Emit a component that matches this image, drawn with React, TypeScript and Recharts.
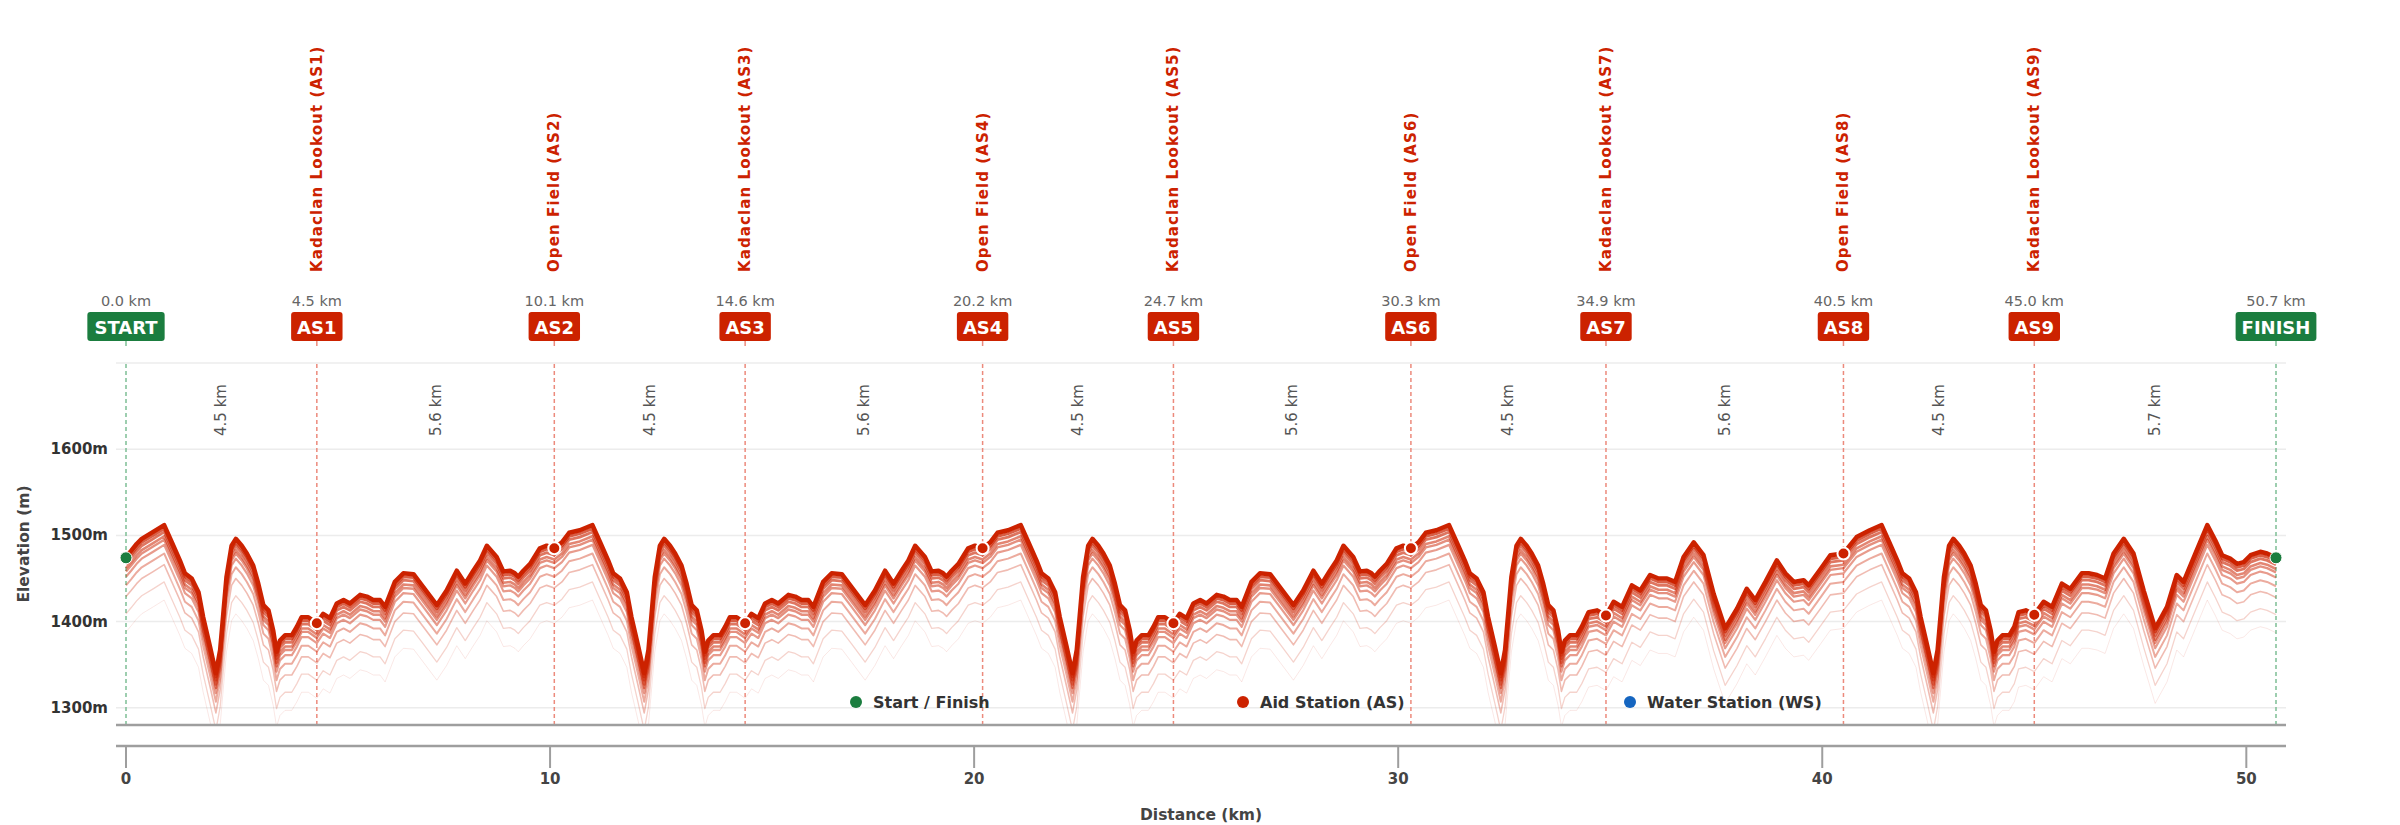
import React from "react";
import {
  LineChart,
  Line,
  XAxis,
  YAxis,
  CartesianGrid,
  ReferenceLine,
  ReferenceDot,
} from "recharts";

const FONT = "'DejaVu Sans', sans-serif";
const RED = "#cc2200";
const GREEN = "#1b7d3f";
const BLUE = "#1565c0";

// elevation profile, one pair of arrays per loop (km, metres)
const loop1Km = [
  0, 0.12, 0.25, 0.37, 0.64, 0.9, 1.08, 1.27, 1.39, 1.55, 1.71, 1.82, 1.98, 2.12, 2.22, 2.37, 2.49, 2.59, 2.73,
  2.85, 3.0, 3.12, 3.24, 3.36, 3.47, 3.55, 3.63, 3.75, 3.91, 4.03, 4.14, 4.3, 4.5, 4.65, 4.81, 4.97, 5.13,
  5.28, 5.52, 5.68, 5.83, 5.99, 6.11, 6.34, 6.54, 6.78, 7.01, 7.33, 7.56, 7.8, 8.0, 8.19, 8.35, 8.51, 8.74,
  8.9, 9.06, 9.17, 9.25, 9.37, 9.53, 9.76, 9.92,
];
const loop1Elev = [
  1475, 1482, 1490, 1496, 1504, 1512, 1492, 1471, 1456, 1450, 1434, 1405, 1371, 1340, 1367, 1452, 1488, 1496, 1488,
  1479, 1465, 1444, 1419, 1413, 1390, 1365, 1378, 1384, 1384, 1394, 1405, 1405, 1398, 1409, 1404, 1421, 1425,
  1421, 1431, 1429, 1425, 1425, 1417, 1446, 1456, 1455, 1440, 1419, 1436, 1459, 1444, 1459, 1471, 1488, 1475,
  1458, 1459, 1456, 1452, 1459, 1467, 1485, 1488,
];

const loop2Km = [
  10.1, 10.28, 10.45, 10.7, 11.0, 11.18, 11.37, 11.49, 11.65, 11.81, 11.92, 12.08, 12.22, 12.32, 12.47, 12.59,
  12.69, 12.83, 12.95, 13.1, 13.22, 13.34, 13.46, 13.57, 13.65, 13.73, 13.85, 14.01, 14.13, 14.24, 14.4, 14.6,
  14.75, 14.91, 15.07, 15.23, 15.38, 15.62, 15.78, 15.93, 16.09, 16.21, 16.44, 16.64, 16.88, 17.11, 17.43,
  17.66, 17.9, 18.1, 18.29, 18.45, 18.61, 18.84, 19.0, 19.16, 19.27, 19.35, 19.47, 19.63, 19.86, 20.02,
];
const loop2Elev = [
  1485, 1492, 1503, 1506, 1512, 1492, 1471, 1456, 1450, 1434, 1405, 1371, 1340, 1367, 1452, 1488,
  1496, 1488, 1479, 1465, 1444, 1419, 1413, 1390, 1365, 1378, 1384, 1384, 1394, 1405, 1405, 1398,
  1409, 1404, 1421, 1425, 1421, 1431, 1429, 1425, 1425, 1417, 1446, 1456, 1455, 1440, 1419,
  1436, 1459, 1444, 1459, 1471, 1488, 1475, 1458, 1459, 1456, 1452, 1459, 1467, 1485, 1488,
];

const loop3Km = [
  20.2, 20.38, 20.55, 20.8, 21.1, 21.28, 21.47, 21.59, 21.75, 21.91, 22.02, 22.18, 22.32, 22.42, 22.57, 22.69,
  22.79, 22.93, 23.05, 23.2, 23.32, 23.44, 23.56, 23.67, 23.75, 23.83, 23.95, 24.11, 24.23, 24.34, 24.5, 24.7,
  24.85, 25.01, 25.17, 25.33, 25.48, 25.72, 25.88, 26.03, 26.19, 26.31, 26.54, 26.74, 26.98, 27.21, 27.53,
  27.76, 28.0, 28.2, 28.39, 28.55, 28.71, 28.94, 29.1, 29.26, 29.37, 29.45, 29.57, 29.73, 29.96, 30.12,
];
const loop3Elev = [
  1485, 1492, 1503, 1506, 1512, 1492, 1471, 1456, 1450, 1434, 1405, 1371, 1340, 1367, 1452, 1488,
  1496, 1488, 1479, 1465, 1444, 1419, 1413, 1390, 1365, 1378, 1384, 1384, 1394, 1405, 1405, 1398,
  1409, 1404, 1421, 1425, 1421, 1431, 1429, 1425, 1425, 1417, 1446, 1456, 1455, 1440, 1419,
  1436, 1459, 1444, 1459, 1471, 1488, 1475, 1458, 1459, 1456, 1452, 1459, 1467, 1485, 1488,
];

const loop4Km = [
  30.3, 30.48, 30.65, 30.9, 31.2, 31.38, 31.57, 31.69, 31.85, 32.01, 32.12, 32.28, 32.42, 32.52, 32.67, 32.79,
  32.89, 33.03, 33.15, 33.3, 33.42, 33.54, 33.66, 33.77, 33.85, 33.93, 34.05, 34.21, 34.33, 34.49, 34.69, 34.9,
  35.08, 35.28, 35.51, 35.71, 35.94, 36.14, 36.34, 36.53, 36.73, 36.97, 37.2, 37.44, 37.71, 37.99, 38.22,
  38.42, 38.66, 38.93, 39.13, 39.33, 39.56, 39.68, 39.96, 40.19,
];
const loop4Elev = [
  1485, 1492, 1503, 1506, 1512, 1492, 1471, 1456, 1450, 1434, 1405, 1371, 1340, 1367, 1452, 1488,
  1496, 1488, 1479, 1465, 1444, 1419, 1413, 1390, 1365, 1378, 1384, 1384, 1394, 1411, 1413, 1407,
  1423, 1417, 1442, 1436, 1454, 1450, 1450, 1446, 1475, 1492, 1477, 1432, 1392, 1415, 1438,
  1425, 1446, 1471, 1456, 1446, 1448, 1442, 1461, 1477,
];

const loop5Km = [
  40.5, 40.81, 41.12, 41.4, 41.58, 41.77, 41.89, 42.05, 42.21, 42.32, 42.48, 42.62, 42.72, 42.87, 42.99, 43.09,
  43.23, 43.35, 43.5, 43.62, 43.74, 43.86, 43.97, 44.05, 44.13, 44.25, 44.41, 44.53, 44.63, 44.8, 45.0, 45.22,
  45.42, 45.65, 45.85, 46.12, 46.28, 46.48, 46.67, 46.87, 47.11, 47.34, 47.58, 47.85, 48.13, 48.36, 48.52,
  48.8, 49.08, 49.27, 49.43, 49.62, 49.78, 49.94, 50.1, 50.33, 50.49, 50.7,
];
const loop5Elev = [
  1479, 1498, 1506, 1512, 1492, 1471, 1456, 1450, 1434, 1405, 1371, 1340, 1367, 1452, 1488, 1496,
  1488, 1479, 1465, 1444, 1419, 1413, 1390, 1365, 1378, 1384, 1384, 1394, 1411, 1413, 1408, 1423,
  1417, 1444, 1438, 1456, 1456, 1454, 1450, 1479, 1496, 1479, 1436, 1392, 1417, 1454, 1446,
  1479, 1512, 1494, 1477, 1473, 1467, 1469, 1477, 1481, 1479, 1474,
];

// stations
const stationCodes = ["START", "AS1", "AS2", "AS3", "AS4", "AS5", "AS6", "AS7", "AS8", "AS9", "FINISH"];
const stationKm = [0, 4.5, 10.1, 14.6, 20.2, 24.7, 30.3, 34.9, 40.5, 45.0, 50.7];
const stationElev = [1474, 1398, 1485, 1398, 1485, 1398, 1485, 1407, 1479, 1408, 1474];
const stationNames = [
  "",
  "Kadaclan Lookout (AS1)",
  "Open Field (AS2)",
  "Kadaclan Lookout (AS3)",
  "Open Field (AS4)",
  "Kadaclan Lookout (AS5)",
  "Open Field (AS6)",
  "Kadaclan Lookout (AS7)",
  "Open Field (AS8)",
  "Kadaclan Lookout (AS9)",
  "",
];
const segmentKm = [4.5, 5.6, 4.5, 5.6, 4.5, 5.6, 4.5, 5.6, 4.5, 5.7];

// offsets (m) of the faded copies drawn under the main line
const shadeOffsets = [0, 4, 8, 13, 17, 23, 33, 46, 66, 87];
const shadeOpacity = [1, 0.72, 0.62, 0.55, 0.5, 0.45, 0.38, 0.3, 0.2, 0.1];
const shadeWidth = [4.5, 3, 2.8, 2.6, 2.4, 2.2, 2, 1.6, 1.3, 1];

const yTicks = [1300, 1400, 1500, 1600];
const xTicks = [0, 10, 20, 30, 40, 50];

const legendItems = [
  { label: "Start / Finish", color: GREEN },
  { label: "Aid Station (AS)", color: RED },
  { label: "Water Station (WS)", color: BLUE },
];

const allKm = [...loop1Km, ...loop2Km, ...loop3Km, ...loop4Km, ...loop5Km];
const allElev = [...loop1Elev, ...loop2Elev, ...loop3Elev, ...loop4Elev, ...loop5Elev];

const data = allKm.map((km, i) => {
  const row: Record<string, number> = { km };
  shadeOffsets.forEach((off, j) => {
    row[`e${j}`] = allElev[i] - off;
  });
  return row;
});

const glyph: Record<string, number> = {
  A: 0.774, S: 0.72, T: 0.682, R: 0.77, F: 0.683, I: 0.372, N: 0.837, H: 0.837,
};
const badgeWidth = (s: string) =>
  s.split("").reduce((w, c) => w + (glyph[c] ?? 0.696), 0) * 18 + 12;

const StationLabel = ({ viewBox, idx }: any) => {
  const x = viewBox.x;
  const y = viewBox.y;
  const code = stationCodes[idx];
  const isEnd = code === "START" || code === "FINISH";
  const color = isEnd ? GREEN : RED;
  const w = badgeWidth(code);
  const name = stationNames[idx];
  return (
    <g fontFamily={FONT}>
      {name && (
        <text
          x={x}
          y={y - 91}
          transform={`rotate(-90 ${x} ${y - 91})`}
          dominantBaseline="central"
          fill={RED}
          fontWeight="bold"
          fontSize={15}
          letterSpacing={1.1}
        >
          {name}
        </text>
      )}
      <text x={x} y={y - 57} textAnchor="middle" fill="#666" fontSize={14.5}>
        {stationKm[idx].toFixed(1)} km
      </text>
      <rect x={x - w / 2} y={y - 51} width={w} height={29} rx={3} fill={color} />
      <text
        x={x}
        y={y - 36}
        textAnchor="middle"
        dominantBaseline="central"
        fill="#fff"
        fontWeight="bold"
        fontSize={18}
      >
        {code}
      </text>
      <line x1={x} x2={x} y1={y - 22} y2={y - 17} stroke={isEnd ? "#7dbf95" : "#ec8a7c"} strokeWidth={1.5} />
    </g>
  );
};

const SegmentLabel = ({ viewBox, idx }: any) => {
  const x = viewBox.x;
  const y = viewBox.y + 47;
  return (
    <text
      x={x}
      y={y}
      transform={`rotate(-90 ${x} ${y})`}
      textAnchor="middle"
      dominantBaseline="central"
      fill="#555"
      fontSize={15}
      fontFamily={FONT}
    >
      {segmentKm[idx].toFixed(1)} km
    </text>
  );
};

const XTick = ({ x, y, payload }: any) => (
  <g>
    <line x1={x} x2={x} y1={y + 21} y2={y + 43} stroke="#9e9e9e" strokeWidth={2} />
    <text x={x} y={y + 59} textAnchor="middle" fill="#444" fontWeight="bold" fontSize={15} fontFamily={FONT}>
      {payload.value}
    </text>
  </g>
);

const YTick = ({ x, y, payload }: any) => (
  <text
    x={x - 8}
    y={y}
    textAnchor="end"
    dominantBaseline="central"
    fill="#333"
    fontWeight="bold"
    fontSize={15}
    fontFamily={FONT}
  >
    {payload.value}m
  </text>
);

const YTitle = ({ viewBox }: any) => {
  const x = 24;
  const y = viewBox.y + viewBox.height / 2;
  return (
    <text
      x={x}
      y={y}
      transform={`rotate(-90 ${x} ${y})`}
      textAnchor="middle"
      dominantBaseline="central"
      fill="#444"
      fontWeight="bold"
      fontSize={15.5}
      fontFamily={FONT}
    >
      Elevation (m)
    </text>
  );
};

const XTitle = ({ viewBox }: any) => (
  <text
    x={viewBox.x + viewBox.width / 2}
    y={815}
    textAnchor="middle"
    dominantBaseline="central"
    fill="#444"
    fontWeight="bold"
    fontSize={15.5}
    fontFamily={FONT}
  >
    Distance (km)
  </text>
);

const App = () => {
  return (
    <div style={{ position: "relative", width: 2400, height: 825, background: "#fff" }}>
      <style>{"body{margin:0}"}</style>
      <LineChart
        width={2400}
        height={825}
        data={data}
        margin={{ top: 363, right: 114, bottom: 0, left: 0 }}
      >
        <CartesianGrid vertical={false} stroke="#ececec" strokeWidth={1.5} />
        <XAxis
          dataKey="km"
          type="number"
          domain={[0, 50.7]}
          ticks={xTicks}
          padding={{ left: 10, right: 10 }}
          height={100}
          tickSize={0}
          tickMargin={0}
          tickLine={false}
          axisLine={{ stroke: "#9e9e9e", strokeWidth: 2.5, transform: "translate(0 21)" }}
          tick={<XTick />}
          label={<XTitle />}
        />
        <YAxis
          type="number"
          domain={[1280, 1700]}
          allowDataOverflow
          ticks={yTicks}
          width={116}
          tickSize={0}
          tickMargin={0}
          tickLine={false}
          axisLine={false}
          tick={<YTick />}
          label={<YTitle />}
        />
        {stationKm.map((km, i) => {
          const isEnd = i === 0 || i === stationKm.length - 1;
          return (
            <ReferenceLine
              key={`st-${i}`}
              x={km}
              stroke={isEnd ? "#7dbf95" : "#ec8a7c"}
              strokeWidth={1.5}
              strokeDasharray="4 3"
              label={(p: any) => <StationLabel viewBox={p.viewBox} idx={i} />}
            />
          );
        })}
        {segmentKm.map((_, i) => (
          <ReferenceLine
            key={`seg-${i}`}
            x={(stationKm[i] + stationKm[i + 1]) / 2}
            stroke="none"
            label={(p: any) => <SegmentLabel viewBox={p.viewBox} idx={i} />}
          />
        ))}
        {shadeOffsets
          .map((_, j) => j)
          .reverse()
          .map((j) => (
            <Line
              key={`e${j}`}
              dataKey={`e${j}`}
              type="linear"
              stroke={RED}
              strokeOpacity={shadeOpacity[j]}
              strokeWidth={shadeWidth[j]}
              strokeLinejoin="round"
              dot={false}
              activeDot={false}
              isAnimationActive={false}
            />
          ))}
        <ReferenceLine y={1280} stroke="#9e9e9e" strokeWidth={2.5} />
        {stationKm.map((km, i) => {
          const isEnd = i === 0 || i === stationKm.length - 1;
          return (
            <ReferenceDot
              key={`dot-${i}`}
              x={km}
              y={stationElev[i]}
              r={6}
              fill={isEnd ? GREEN : RED}
              stroke="#fff"
              strokeWidth={isEnd ? 1 : 2}
            />
          );
        })}
      </LineChart>
      {legendItems.map((item, i) => (
        <div
          key={item.label}
          style={{
            position: "absolute",
            left: 850 + i * 387,
            top: 690,
            height: 24,
            display: "flex",
            alignItems: "center",
            fontFamily: FONT,
            fontWeight: "bold",
            fontSize: 16,
            color: "#333",
            whiteSpace: "nowrap",
          }}
        >
          <span
            style={{
              display: "inline-block",
              width: 12,
              height: 12,
              borderRadius: 6,
              background: item.color,
              marginRight: 11,
            }}
          />
          {item.label}
        </div>
      ))}
    </div>
  );
};

export default App;
